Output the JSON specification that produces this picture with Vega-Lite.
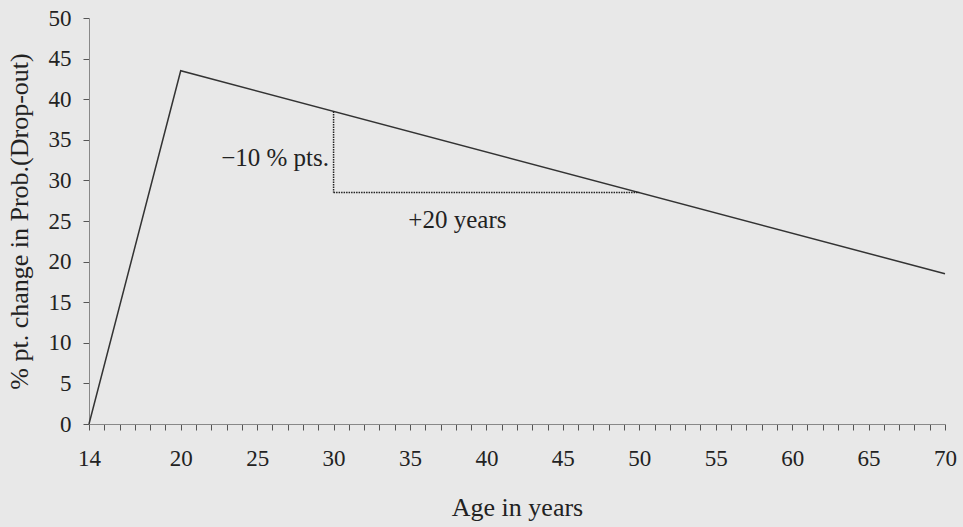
{
  "$schema": "https://vega.github.io/schema/vega-lite/v6.json",
  "autosize": "none",
  "width": 856,
  "height": 406,
  "padding": {"left": 89, "top": 18, "right": 18, "bottom": 103},
  "background": "#e8e8e8",
  "config": {
    "view": {"stroke": null},
    "font": "Liberation Serif",
    "axis": {
      "labelFont": "Liberation Serif",
      "titleFont": "Liberation Serif",
      "labelFontSize": 23,
      "titleFontSize": 26,
      "titleFontWeight": "normal",
      "labelColor": "#222",
      "titleColor": "#222",
      "domainColor": "#888",
      "tickColor": "#555",
      "grid": false
    }
  },
  "datasets": {
    "curve": [
      {"age": 14, "change": 0},
      {"age": 20, "change": 43.5},
      {"age": 70, "change": 18.5}
    ],
    "vguide": [
      {"age": 30, "change": 38.5},
      {"age": 30, "change": 28.5}
    ],
    "hguide": [
      {"age": 30, "change": 28.5},
      {"age": 50, "change": 28.5}
    ],
    "leftlabel": [
      {"age": 29.7, "change": 32.8, "text": "−10 % pts."}
    ],
    "centerlabel": [
      {"age": 38.1, "change": 25.1, "text": "+20 years"}
    ]
  },
  "layer": [
    {
      "data": {"name": "curve"},
      "mark": {"type": "line", "color": "#333", "strokeWidth": 1.5},
      "encoding": {
        "x": {
          "field": "age", "type": "quantitative",
          "scale": {"domain": [14, 70], "nice": false, "zero": false},
          "axis": {
            "title": "Age in years",
            "values": [14,15,16,17,18,19,20,21,22,23,24,25,26,27,28,29,30,31,32,33,34,35,36,37,38,39,40,41,42,43,44,45,46,47,48,49,50,51,52,53,54,55,56,57,58,59,60,61,62,63,64,65,66,67,68,69,70],
            "tickCount": 200,
            "format": "d",
            "labelExpr": "(datum.value == 14 || (datum.value >= 20 && datum.value % 5 == 0)) ? datum.label : ''",
            "tickSize": 6,
            "labelPadding": 17,
            "titlePadding": 24,
            "labelFlush": false,
            "labelOverlap": false
          }
        },
        "y": {
          "field": "change", "type": "quantitative",
          "scale": {"domain": [0, 50], "nice": false},
          "axis": {
            "title": "% pt. change in Prob.(Drop-out)",
            "values": [0,5,10,15,20,25,30,35,40,45,50],
            "tickCount": 20,
            "format": "d",
            "tickSize": 6,
            "labelPadding": 12,
            "titlePadding": 16
          }
        }
      }
    },
    {
      "data": {"name": "vguide"},
      "mark": {"type": "line", "color": "#222", "strokeWidth": 1.5, "strokeDash": [1.5, 1]},
      "encoding": {
        "x": {"field": "age", "type": "quantitative"},
        "y": {"field": "change", "type": "quantitative"}
      }
    },
    {
      "data": {"name": "hguide"},
      "mark": {"type": "line", "color": "#222", "strokeWidth": 1.5, "strokeDash": [1.5, 1]},
      "encoding": {
        "x": {"field": "age", "type": "quantitative"},
        "y": {"field": "change", "type": "quantitative"}
      }
    },
    {
      "data": {"name": "leftlabel"},
      "mark": {"type": "text", "font": "Liberation Serif", "fontSize": 25, "color": "#222", "baseline": "middle", "align": "right"},
      "encoding": {
        "x": {"field": "age", "type": "quantitative"},
        "y": {"field": "change", "type": "quantitative"},
        "text": {"field": "text"}
      }
    },
    {
      "data": {"name": "centerlabel"},
      "mark": {"type": "text", "font": "Liberation Serif", "fontSize": 25, "color": "#222", "baseline": "middle", "align": "center"},
      "encoding": {
        "x": {"field": "age", "type": "quantitative"},
        "y": {"field": "change", "type": "quantitative"},
        "text": {"field": "text"}
      }
    }
  ]
}
